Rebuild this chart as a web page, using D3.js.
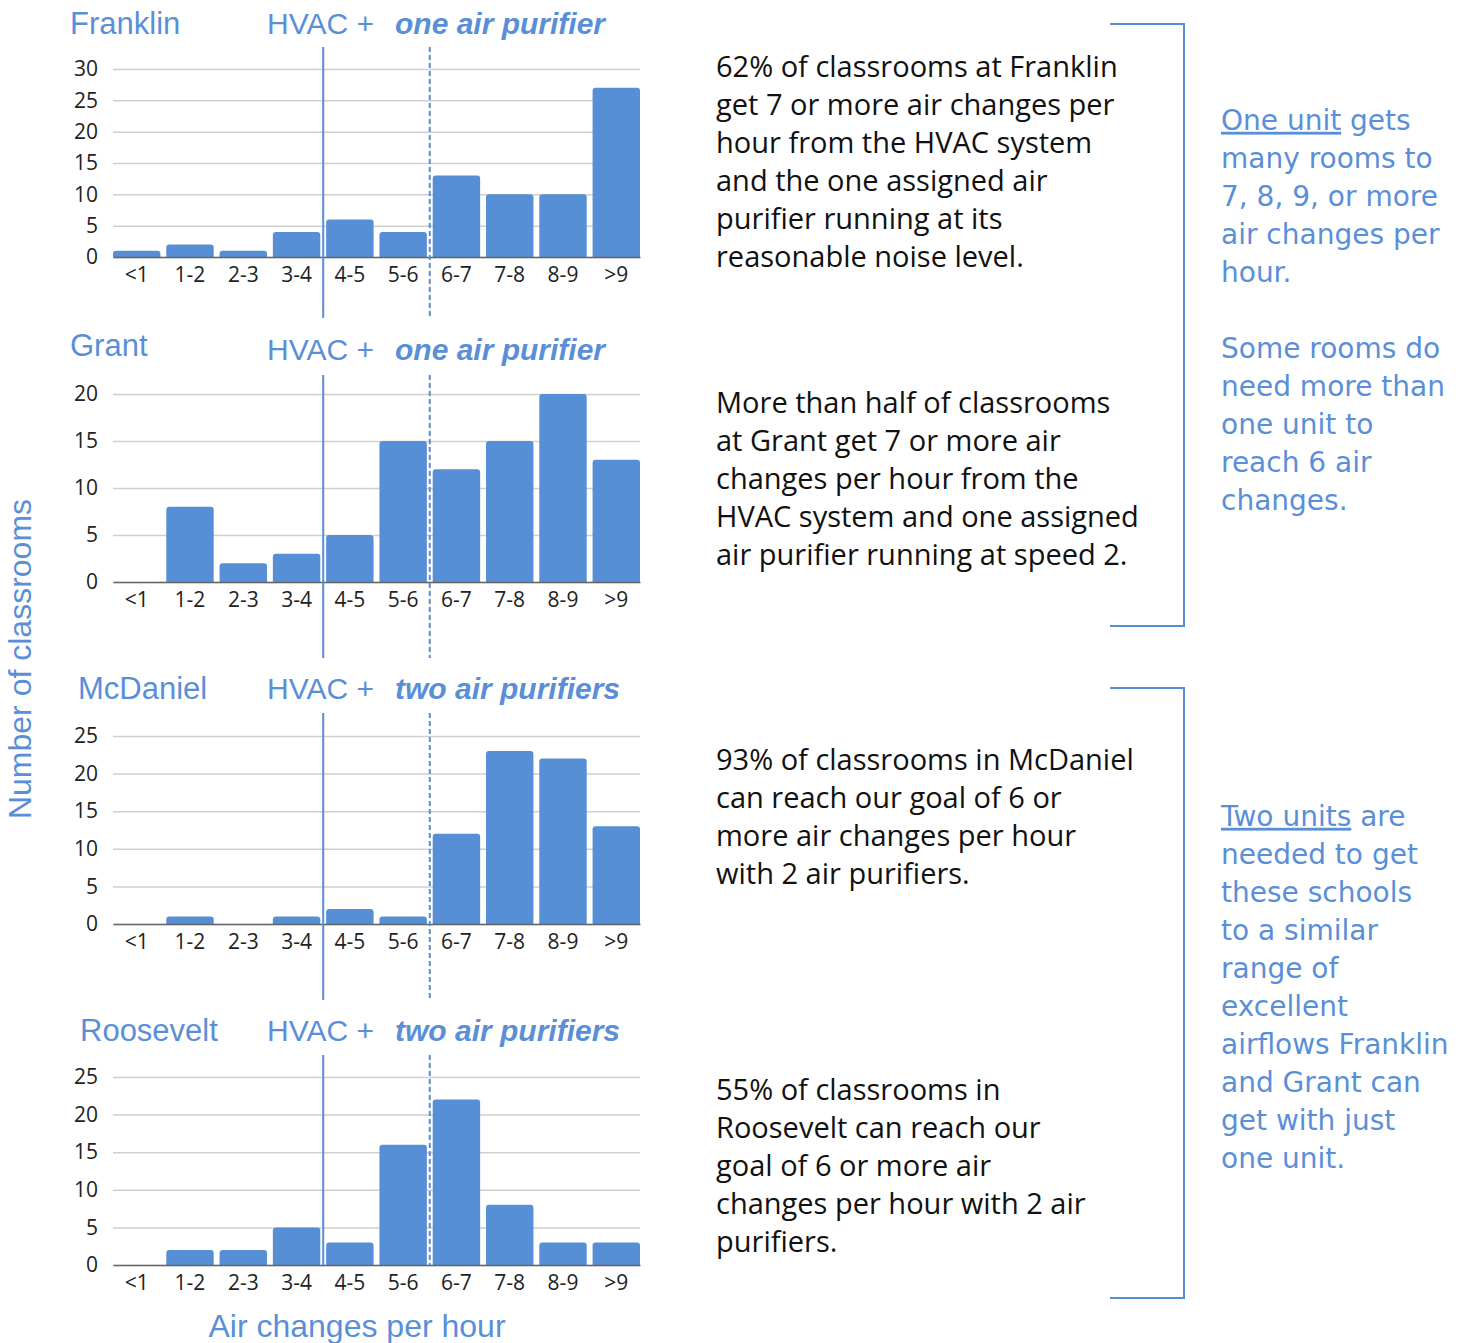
<!DOCTYPE html>
<html>
<head>
<meta charset="utf-8">
<script src="https://cdn.jsdelivr.net/npm/d3@7"></script>
<style>
  body { margin: 0; background: #fff; }
</style>
</head>
<body>
<div id="chart"></div>
<script>
// Data
//= ================================
var categories = ["<1", "1-2", "2-3", "3-4", "4-5", "5-6", "6-7", "7-8", "8-9", ">9"];
var franklin = [1, 2, 1, 4, 6, 4, 13, 10, 10, 27];
var grant = [0, 8, 2, 3, 5, 15, 12, 15, 20, 13];
var mcdaniel = [0, 1, 0, 1, 2, 1, 12, 23, 22, 13];
var roosevelt = [0, 2, 2, 5, 3, 16, 22, 8, 3, 3];

var schools = ["Franklin", "Grant", "McDaniel", "Roosevelt"];
var purifiers = ["one air purifier", "one air purifier", "two air purifiers", "two air purifiers"];
var yMaxes = [30, 20, 25, 25];

var notes = [
  ["62% of classrooms at Franklin", "get 7 or more air changes per", "hour from the HVAC system",
   "and the one assigned air", "purifier running at its", "reasonable noise level."],
  ["More than half of classrooms", "at Grant get 7 or more air", "changes per hour from the",
   "HVAC system and one assigned", "air purifier running at speed 2."],
  ["93% of classrooms in McDaniel", "can reach our goal of 6 or", "more air changes per hour",
   "with 2 air purifiers."],
  ["55% of classrooms in", "Roosevelt can reach our", "goal of 6 or more air",
   "changes per hour with 2 air", "purifiers."]
];

var sideOne = [["One unit", " gets"], "many rooms to", "7, 8, 9, or more", "air changes per", "hour.", "",
  "Some rooms do", "need more than", "one unit to", "reach 6 air", "changes."];
var sideTwo = [["Two units", " are"], "needed to get", "these schools", "to a similar", "range of",
  "excellent", "airflows Franklin", "and Grant can", "get with just", "one unit."];

var seriesList = [franklin, grant, mcdaniel, roosevelt];

// Layout
//= ================================
var svgWidth = 1469;
var svgHeight = 1343;
var plotLeft = 113, plotRight = 640, plotH = 188;
var baselines = [257, 582, 924, 1265];
var titleYs = [23, 345, 688, 1030];
var hvacYs = [23, 349, 688, 1030];
var nameXs = [70, 70, 78, 80];
var guideTops = [47, 375, 713, 1055];
var guideBottoms = [318, 658, 1000, 1265];
var noteTops = [67, 403, 760, 1090];
var lineGap = 38;

var blue = "#568fd6";
var textBlue = "#5a8fd8";

var svg = d3.select("#chart").append("svg")
  .attr("width", svgWidth)
  .attr("height", svgHeight);

var xScale = d3.scaleBand()
  .domain(categories)
  .range([plotLeft, plotRight])
  .paddingInner(0.11)
  .paddingOuter(0);

// bar path with rounded top corners
function barPath(x, y, w, h, r) {
  r = Math.min(r, h, w / 2);
  return "M" + x + "," + (y + h) +
    "V" + (y + r) +
    "Q" + x + "," + y + " " + (x + r) + "," + y +
    "H" + (x + w - r) +
    "Q" + (x + w) + "," + y + " " + (x + w) + "," + (y + r) +
    "V" + (y + h) + "Z";
}

seriesList.forEach(function(values, i) {
  var base = baselines[i];
  var yScale = d3.scaleLinear().domain([0, yMaxes[i]]).range([base, base - plotH]);
  var g = svg.append("g");

  // gridlines + y labels
  var leftAxis = d3.axisLeft(yScale).ticks(yMaxes[i] / 5).tickSize(-(plotRight - plotLeft)).tickPadding(15);
  var yAxis = g.append("g")
    .attr("transform", "translate(" + plotLeft + ",0)")
    .call(leftAxis);
  yAxis.select(".domain").remove();
  yAxis.selectAll("line").attr("stroke", "#cfcfcf").attr("stroke-width", 1.5);
  yAxis.selectAll("text")
    .attr("font-family", "'Open Sans', sans-serif")
    .attr("font-size", "21px")
    .attr("fill", "#222");

  // bars
  g.selectAll(".bar")
    .data(values.map(function(v, k) { return { cat: categories[k], value: v }; }))
    .enter().filter(function(d) { return d.value > 0; })
    .append("path")
    .attr("class", "bar")
    .attr("fill", blue)
    .attr("d", function(d) {
      var y = yScale(d.value);
      return barPath(xScale(d.cat), y, xScale.bandwidth(), base - y, 3);
    });

  // baseline + x labels
  var bottomAxis = d3.axisBottom(xScale).tickSize(0).tickPadding(10);
  var xAxis = g.append("g")
    .attr("transform", "translate(0," + base + ")")
    .call(bottomAxis);
  xAxis.select(".domain").attr("stroke", "#666").attr("stroke-width", 1.5);
  xAxis.selectAll("text")
    .attr("font-family", "'Open Sans', sans-serif")
    .attr("font-size", "21px")
    .attr("fill", "#222");

  // guide lines at 4 and 6 air changes
  var solidX = xScale(categories[4]) - xScale.step() * xScale.paddingInner() / 2;
  var dashX = xScale(categories[6]) - xScale.step() * xScale.paddingInner() / 2;
  g.append("line")
    .attr("x1", solidX).attr("x2", solidX)
    .attr("y1", guideTops[i]).attr("y2", guideBottoms[i])
    .attr("stroke", blue).attr("stroke-width", 2);
  g.append("line")
    .attr("x1", dashX).attr("x2", dashX)
    .attr("y1", guideTops[i]).attr("y2", guideBottoms[i])
    .attr("stroke", blue).attr("stroke-width", 2)
    .attr("stroke-dasharray", "5,3");

  // titles
  g.append("text")
    .attr("x", nameXs[i]).attr("y", titleYs[i])
    .attr("dy", "0.35em")
    .attr("font-family", "'Liberation Sans', Arial, sans-serif")
    .attr("font-size", "31px")
    .attr("fill", textBlue)
    .text(schools[i]);
  var t = g.append("text")
    .attr("x", 267).attr("y", hvacYs[i])
    .attr("dy", "0.35em")
    .attr("font-family", "'Liberation Sans', Arial, sans-serif")
    .attr("font-size", "30px")
    .attr("fill", textBlue)
    .attr("xml:space", "preserve");
  t.append("tspan").text("HVAC + ");
  t.append("tspan")
    .attr("x", 395)
    .attr("font-weight", "bold")
    .attr("font-style", "italic")
    .text(purifiers[i]);

  // note text
  var note = g.append("text")
    .attr("font-family", "'Open Sans', sans-serif")
    .attr("font-size", "29px")
    .attr("fill", "#111");
  note.selectAll("tspan")
    .data(notes[i])
    .enter().append("tspan")
    .attr("x", 716)
    .attr("y", function(d, k) { return noteTops[i] + k * lineGap; })
    .attr("dy", "0.35em")
    .text(function(d) { return d; });
});

// axis titles
svg.append("text")
  .attr("x", 357).attr("y", 1326)
  .attr("dy", "0.35em")
  .attr("text-anchor", "middle")
  .attr("font-family", "'Liberation Sans', Arial, sans-serif")
  .attr("font-size", "32px")
  .attr("fill", textBlue)
  .text("Air changes per hour");

svg.append("text")
  .attr("transform", "translate(20,659) rotate(-90)")
  .attr("dy", "0.35em")
  .attr("text-anchor", "middle")
  .attr("font-family", "'Liberation Sans', Arial, sans-serif")
  .attr("font-size", "32px")
  .attr("fill", textBlue)
  .text("Number of classrooms");

// brackets
[[24, 626], [688, 1298]].forEach(function(b) {
  svg.append("path")
    .attr("d", "M1110," + b[0] + "H1184V" + b[1] + "H1110")
    .attr("fill", "none")
    .attr("stroke", blue)
    .attr("stroke-width", 2);
});

// side notes
function sideNote(lines, top) {
  var txt = svg.append("text")
    .attr("font-family", "'DejaVu Sans', sans-serif")
    .attr("font-size", "28px")
    .attr("fill", textBlue)
    .attr("xml:space", "preserve");
  lines.forEach(function(line, k) {
    if (line === "") return;
    var ts = txt.append("tspan")
      .attr("x", 1221)
      .attr("y", top + k * lineGap)
      .attr("dy", "0.35em");
    if (Array.isArray(line)) {
      ts.append("tspan").style("text-decoration", "underline").text(line[0]);
      txt.append("tspan").text(line[1]);
    } else {
      ts.text(line);
    }
  });
}
sideNote(sideOne, 120);
sideNote(sideTwo, 816);
</script>
</body>
</html>
